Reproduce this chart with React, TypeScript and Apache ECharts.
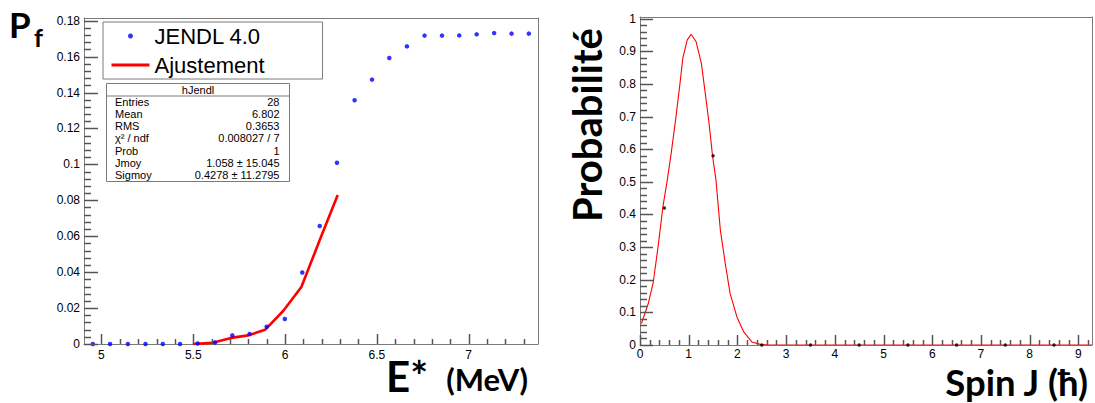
import React, { useEffect, useRef } from "react";
import * as echarts from "echarts";

// ---------- Left panel data: fission probability vs excitation energy ----------
const JENDL_E = [
  4.953, 5.047, 5.144, 5.24, 5.334, 5.428, 5.524, 5.619, 5.713, 5.807, 5.9, 5.999, 6.094,
  6.189, 6.283, 6.379, 6.474, 6.568, 6.664, 6.76, 6.855, 6.949, 7.044, 7.139, 7.234, 7.328,
];
const JENDL_PF = [
  0, 0, 0, 0, 0, 0, 0.0003, 0.0008, 0.0048, 0.0056, 0.0096, 0.0139, 0.0398,
  0.0657, 0.1009, 0.1357, 0.1472, 0.1592, 0.1657, 0.1717, 0.1717, 0.1718, 0.1724, 0.1731, 0.1728, 0.1728,
];
const FIT_E = [5.498, 5.601, 5.706, 5.8, 5.891, 5.991, 6.089, 6.187, 6.287];
const FIT_PF = [0, 0.0006, 0.0034, 0.0048, 0.0079, 0.0185, 0.0317, 0.0573, 0.083];
const E_MAJOR_TICKS = [5, 5.5, 6, 6.5, 7];
const E_MINOR_TICKS = [
  5.1, 5.2, 5.3, 5.4, 5.6, 5.7, 5.8, 5.9, 6.1, 6.2, 6.3, 6.4, 6.6, 6.7, 6.8, 6.9, 7.1, 7.2, 7.3,
];
const PF_MAJOR_TICKS = [0, 0.02, 0.04, 0.06, 0.08, 0.1, 0.12, 0.14, 0.16, 0.18];
const PF_MINOR_TICKS = [
  0.004, 0.008, 0.012, 0.016, 0.024, 0.028, 0.032, 0.036, 0.044, 0.048, 0.052, 0.056,
  0.064, 0.068, 0.072, 0.076, 0.084, 0.088, 0.092, 0.096, 0.104, 0.108, 0.112, 0.116,
  0.124, 0.128, 0.132, 0.136, 0.144, 0.148, 0.152, 0.156, 0.164, 0.168, 0.172, 0.176,
];

// ---------- Right panel data: spin distribution ----------
const SPIN_J = [0.5, 1.5, 2.5, 3.5, 4.5, 5.5, 6.5, 7.5, 8.5];
const SPIN_P = [0.42, 0.58, 0, 0, 0, 0, 0, 0, 0];
const CURVE_J = [
  0.03, 0.17, 0.27, 0.37, 0.47, 0.56, 0.64, 0.73, 0.82, 0.88, 0.97, 1.05, 1.15, 1.26, 1.34,
  1.41, 1.49, 1.56, 1.65, 1.75, 1.85, 1.99, 2.13, 2.3, 2.47, 2.67, 9.28,
];
const CURVE_P = [
  0.066, 0.127, 0.19, 0.3, 0.423, 0.505, 0.587, 0.689, 0.8, 0.88, 0.935, 0.952, 0.93, 0.863,
  0.771, 0.689, 0.579, 0.505, 0.352, 0.25, 0.158, 0.086, 0.04, 0.009, 0.002, 0, 0,
];
const J_MAJOR_TICKS = [0, 1, 2, 3, 4, 5, 6, 7, 8, 9];
const J_MINOR_TICKS = [
  0.2, 0.4, 0.6, 0.8, 1.2, 1.4, 1.6, 1.8, 2.2, 2.4, 2.6, 2.8, 3.2, 3.4, 3.6, 3.8, 4.2, 4.4,
  4.6, 4.8, 5.2, 5.4, 5.6, 5.8, 6.2, 6.4, 6.6, 6.8, 7.2, 7.4, 7.6, 7.8, 8.2, 8.4, 8.6, 8.8, 9.2,
];
const P_MAJOR_TICKS = [0, 0.1, 0.2, 0.3, 0.4, 0.5, 0.6, 0.7, 0.8, 0.9, 1];
const P_MINOR_TICKS = [
  0.02, 0.04, 0.06, 0.08, 0.12, 0.14, 0.16, 0.18, 0.22, 0.24, 0.26, 0.28, 0.32, 0.34, 0.36,
  0.38, 0.42, 0.44, 0.46, 0.48, 0.52, 0.54, 0.56, 0.58, 0.62, 0.64, 0.66, 0.68, 0.72, 0.74,
  0.76, 0.78, 0.82, 0.84, 0.86, 0.88, 0.92, 0.94, 0.96, 0.98,
];

// ---------- Stats box text ----------
const STAT_TITLE = "hJendl";
const STAT_NAMES = ["Entries", "Mean", "RMS", "χ² / ndf", "Prob", "Jmoy", "Sigmoy"];
const STAT_VALUES = ["28", "6.802", "0.3653", "0.008027 / 7", "1", "1.058 ± 15.045", "0.4278 ± 11.2795"];

const AXIS_COLOR = "#7a7a7a";
const TICK_COLOR = "#555555";
const LABEL_FONT = "Liberation Sans";
const TITLE_FONT = "Lato";

const E_RANGE = [4.905, 7.378];
const PF_RANGE = [0, 0.1815];
const J_RANGE = [0, 9.28];
const P_RANGE = [0, 1.005];

export default function App() {
  const ref = useRef<HTMLDivElement>(null);

  useEffect(() => {
    if (!ref.current) return;
    const chart = echarts.init(ref.current, undefined, { renderer: "svg" });

    const axisDef = (dim: "x" | "y", gridIndex: number, range: number[], labels: number[], margin: number) => ({
      type: "value",
      gridIndex,
      min: range[0],
      max: range[1],
      position: dim === "x" ? "bottom" : "left",
      axisLine: { show: true, onZero: false, lineStyle: { color: AXIS_COLOR, width: 1 } },
      axisTick: { show: false },
      axisLabel: { customValues: labels, color: "#000", fontSize: 12, fontFamily: LABEL_FONT, margin },
      splitLine: { show: false },
    });
    // plain frame side (top / right), no ticks
    const frameDef = (dim: "x" | "y", gridIndex: number, range: number[]) => ({
      type: "value",
      gridIndex,
      min: range[0],
      max: range[1],
      position: dim === "x" ? "top" : "right",
      axisLine: { show: true, onZero: false, lineStyle: { color: AXIS_COLOR, width: 1 } },
      axisTick: { show: false },
      axisLabel: { show: false },
      splitLine: { show: false },
    });

    // Tick marks drawn through the axes' own scales (api.coord)
    const tickSeries = (
      dim: "x" | "y",
      axisIndex: number,
      values: number[],
      base: number,
      len: number,
    ) => ({
      type: "custom",
      coordinateSystem: "cartesian2d",
      xAxisIndex: axisIndex,
      yAxisIndex: axisIndex,
      silent: true,
      clip: false,
      z: 8,
      dimensions: ["x", "y"],
      encode: { x: 0, y: 1 },
      data: values.map((v) => (dim === "x" ? [v, base] : [base, v])),
      renderItem: (_params: any, api: any) => {
        const p = api.coord([api.value(0), api.value(1)]);
        if (dim === "x") {
          const x = Math.round(p[0]) + 0.5;
          const y = Math.round(p[1]);
          return {
            type: "line",
            shape: { x1: x, y1: y, x2: x, y2: y - len },
            style: { stroke: TICK_COLOR, lineWidth: 1.5, fill: null },
          };
        }
        const x = Math.round(p[0]);
        const y = Math.round(p[1]) + 0.5;
        return {
          type: "line",
          shape: { x1: x, y1: y, x2: x + len, y2: y },
          style: { stroke: TICK_COLOR, lineWidth: 1.5, fill: null },
        };
      },
    });

    const statText = (text: string, x: number, y: number, align: string) => ({
      type: "text",
      x,
      y,
      style: { text, align, verticalAlign: "middle", fontSize: 11, fontFamily: LABEL_FONT, fill: "#000" },
    });

    chart.setOption({
      animation: false,
      backgroundColor: "#ffffff",
      grid: [
        { left: 84, top: 18, width: 454, height: 326, show: false, containLabel: false },
        { left: 640, top: 17, width: 452, height: 328, show: false, containLabel: false },
      ],
      xAxis: [
        axisDef("x", 0, E_RANGE, E_MAJOR_TICKS, 5),
        axisDef("x", 1, J_RANGE, J_MAJOR_TICKS, 3),
        frameDef("x", 0, E_RANGE),
        frameDef("x", 1, J_RANGE),
      ],
      yAxis: [
        axisDef("y", 0, PF_RANGE, PF_MAJOR_TICKS, 4),
        axisDef("y", 1, P_RANGE, P_MAJOR_TICKS, 4),
        frameDef("y", 0, PF_RANGE),
        frameDef("y", 1, P_RANGE),
      ],
      legend: {
        data: [
          { name: "JENDL 4.0", icon: "circle" },
          { name: "Ajustement", icon: "path://M0,0 L38,0 L38,3 L0,3 Z" },
        ],
        orient: "vertical",
        left: 103,
        top: 22,
        itemWidth: 38,
        itemHeight: 5,
        itemGap: 7,
        padding: [3, 58, 3, 8.5],
        borderColor: AXIS_COLOR,
        borderWidth: 1,
        backgroundColor: "#fff",
        selectedMode: false,
        align: "left",
        textStyle: { fontSize: 22, lineHeight: 22, fontFamily: LABEL_FONT, color: "#000" },
      },
      series: [
        tickSeries("x", 0, E_MAJOR_TICKS, PF_RANGE[0], 10),
        tickSeries("x", 0, E_MINOR_TICKS, PF_RANGE[0], 5),
        tickSeries("y", 0, PF_MAJOR_TICKS, E_RANGE[0], 14),
        tickSeries("y", 0, PF_MINOR_TICKS, E_RANGE[0], 7),
        tickSeries("x", 1, J_MAJOR_TICKS, P_RANGE[0], 10),
        tickSeries("x", 1, J_MINOR_TICKS, P_RANGE[0], 5),
        tickSeries("y", 1, P_MAJOR_TICKS, J_RANGE[0], 13),
        tickSeries("y", 1, P_MINOR_TICKS, J_RANGE[0], 7),
        {
          type: "scatter",
          name: "JENDL 4.0",
          xAxisIndex: 0,
          yAxisIndex: 0,
          symbol: "circle",
          symbolSize: 4.5,
          z: 6,
          itemStyle: { color: "#0000ff" },
          data: JENDL_E.map((e, i) => [e, JENDL_PF[i]]),
        },
        {
          type: "line",
          name: "Ajustement",
          xAxisIndex: 0,
          yAxisIndex: 0,
          symbol: "none",
          z: 5,
          lineStyle: { color: "#ff0000", width: 2.6 },
          itemStyle: { color: "#ff0000" },
          data: FIT_E.map((e, i) => [e, FIT_PF[i]]),
        },
        {
          type: "line",
          name: "curve",
          xAxisIndex: 1,
          yAxisIndex: 1,
          symbol: "none",
          lineStyle: { color: "#ff0000", width: 1.1 },
          z: 6,
          data: CURVE_J.map((j, i) => [j, CURVE_P[i]]),
        },
        {
          type: "scatter",
          name: "spin",
          xAxisIndex: 1,
          yAxisIndex: 1,
          symbol: "circle",
          symbolSize: 3.5,
          itemStyle: { color: "#000" },
          z: 7,
          data: SPIN_J.map((j, i) => [j, SPIN_P[i]]),
        },
      ],
      graphic: [
        // Stats box
        { type: "rect", shape: { x: 106.5, y: 83.5, width: 183, height: 98 }, style: { fill: "#fff", stroke: AXIS_COLOR, lineWidth: 1 } },
        { type: "line", shape: { x1: 106.5, y1: 96, x2: 289.5, y2: 96 }, style: { stroke: AXIS_COLOR, lineWidth: 1 } },
        statText(STAT_TITLE, 198, 89.8, "center"),
        ...STAT_NAMES.map((n, i) => statText(n, 115, 101.7 + i * 12.2, "left")),
        ...STAT_VALUES.map((v, i) => statText(v, 279.5, 101.7 + i * 12.2, "right")),
        // Axis titles
        { type: "text", x: 9, y: 23.5, style: { text: "P", fontSize: 35, fontWeight: "bold", fontFamily: TITLE_FONT, fill: "#000", align: "left", verticalAlign: "middle" } },
        { type: "text", x: 34, y: 37, style: { text: "f", fontSize: 25, fontWeight: "bold", fontFamily: TITLE_FONT, fill: "#000", align: "left", verticalAlign: "middle" } },
        { type: "text", x: 386, y: 376, style: { text: "E*", fontSize: 42, lineHeight: 30, fontWeight: "bold", fontFamily: TITLE_FONT, fill: "#000", align: "left", verticalAlign: "middle" } },
        { type: "text", x: 528, y: 379, style: { text: "(MeV)", fontSize: 31, lineHeight: 24, fontWeight: "bold", fontFamily: TITLE_FONT, fill: "#000", align: "right", verticalAlign: "middle" } },
        { type: "text", x: 1088, y: 381.5, style: { text: "Spin J (ħ)", fontSize: 36.5, lineHeight: 26, fontWeight: "bold", fontFamily: TITLE_FONT, fill: "#000", align: "right", verticalAlign: "middle" } },
        { type: "text", x: 587, y: 125, rotation: Math.PI / 2, style: { text: "Probabilité", fontSize: 40, fontWeight: "bold", fontFamily: TITLE_FONT, fill: "#000", align: "center", verticalAlign: "middle" } },
      ],
    });

    return () => chart.dispose();
  }, []);

  return (
    <div
      ref={ref}
      style={{ position: "fixed", left: 0, top: 0, width: 1095, height: 403, background: "#fff" }}
    />
  );
}
